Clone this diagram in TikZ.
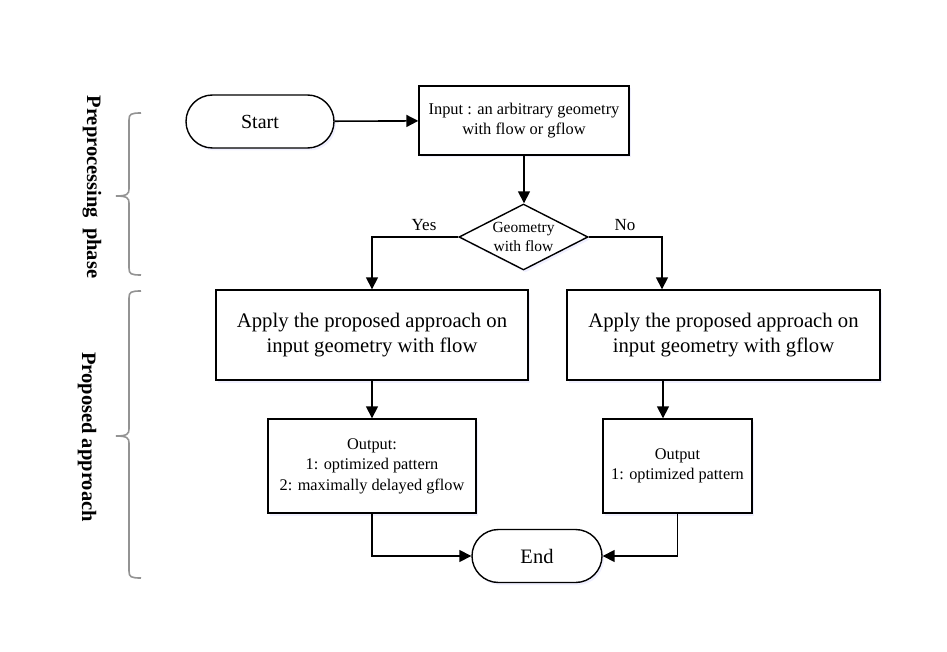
\documentclass[tikz,border=0pt]{standalone}
\usepackage{fontspec}
\setmainfont{Liberation Serif}
\usetikzlibrary{arrows.meta,shapes.geometric,shapes.misc,shadows}
\begin{document}
\begin{tikzpicture}[x=1pt,y=-1pt,
  base/.style={draw=black,line width=1.4pt,fill=white,align=center,inner sep=0pt,
    drop shadow={shadow xshift=2pt,shadow yshift=-2.5pt,opacity=0.3,fill=blue!20}},
  pill/.style={base,rounded rectangle,minimum width=#1,minimum height=53pt},
  boxx/.style={base,rectangle},
  flow/.style={line width=1.6pt,-{Triangle[length=12pt,width=12pt]}},
  bracket/.style={draw=gray!85,line width=1.6pt},
]
\useasboundingbox (0,0) rectangle (947,652);

% terminal and process nodes
\node[pill=148pt,font=\fontsize{20}{22}\selectfont] (start) at (260,121.5) {Start};
\node[boxx,minimum width=210pt,minimum height=69pt,font=\fontsize{16.4}{19.5}\selectfont] (input) at (524,120.5)
  {Input : an arbitrary geometry\\with flow or gflow};
\node[base,diamond,aspect=1.95,minimum width=129pt,minimum height=66pt,font=\fontsize{15.5}{19}\selectfont] (dec) at (523.5,237)
  {Geometry\\with flow};
\node[boxx,minimum width=312pt,minimum height=90pt,font=\fontsize{20.7}{25}\selectfont] (apL) at (372,335)
  {Apply the proposed approach on\\input geometry with flow};
\node[boxx,minimum width=313pt,minimum height=90pt,font=\fontsize{20.7}{25}\selectfont] (apR) at (723.5,335)
  {Apply the proposed approach on\\input geometry with gflow};
\node[boxx,minimum width=208pt,minimum height=94pt,font=\fontsize{16.3}{20.5}\selectfont] (outL) at (372,466)
  {Output:\\1: optimized pattern\\2: maximally delayed gflow};
\node[boxx,minimum width=149pt,minimum height=94pt,font=\fontsize{16.3}{20.5}\selectfont] (outR) at (677.5,466)
  {Output\\1: optimized pattern};
\node[pill=130pt,font=\fontsize{20.5}{22}\selectfont] (end) at (537,556) {End};

% connectors
\draw[flow] (start) -- (input);
\draw[flow] (input.south) -- (input.south |- dec.north);
\draw[flow] (dec.west) -| (apL.north);
\draw[flow] (dec.east) -| (apR.north -| 662,0);
\draw[flow] (apL.south) -- (outL.north);
\draw[flow] (apR.south -| 663,0) -- (outR.north -| 663,0);
\draw[flow] (outL.south) |- (end.west);
\draw[flow] (outR.south) |- (end.east);

% branch labels
\node[font=\fontsize{17}{20}\selectfont] (yes) at (424,225) {Yes};
\node[font=\fontsize{17}{20}\selectfont] (no) at (625,225) {No};

% phase brackets
\draw[bracket] (141,113) .. controls (131,113) and (129,114) .. (129,120)
  -- (129,189) .. controls (129,194) and (127,196) .. (116,196)
  .. controls (127,196) and (129,198) .. (129,203)
  -- (129,268) .. controls (129,274) and (131,275) .. (141,275);
\draw[bracket] (141,291) .. controls (131,291) and (129,292) .. (129,298)
  -- (129,429) .. controls (129,434) and (127,436) .. (116,436)
  .. controls (127,436) and (129,438) .. (129,443)
  -- (129,571) .. controls (129,577) and (131,578) .. (141,578);

\node[rotate=-90,font=\bfseries\fontsize{20.5}{24}\selectfont] (pre) at (92,187) {Preprocessing~~phase};
\node[rotate=-90,font=\bfseries\fontsize{20.5}{24}\selectfont] (prop) at (87,437) {Proposed approach};
\end{tikzpicture}
\end{document}
